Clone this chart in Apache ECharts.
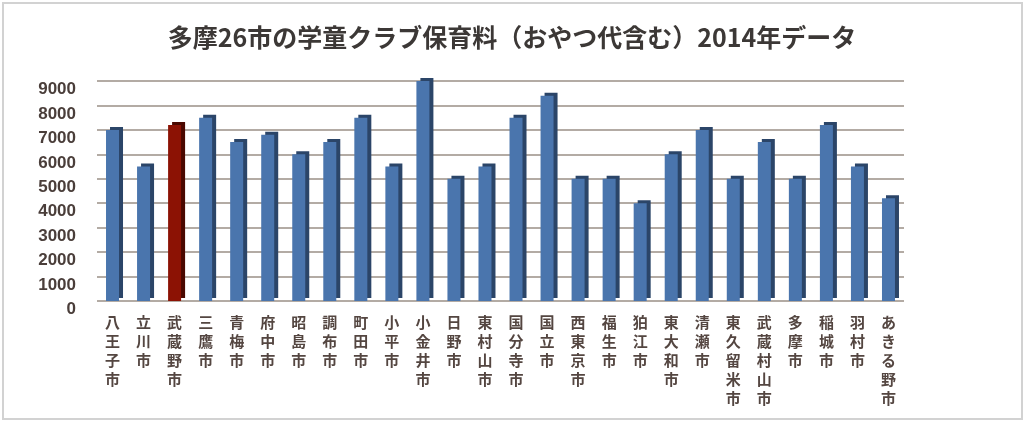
<!DOCTYPE html>
<html>
<head>
<meta charset="utf-8">
<script src="https://cdn.jsdelivr.net/npm/echarts@6/dist/echarts.min.js"></script>
<style>
  html, body { margin: 0; padding: 0; background: #fff; }
  #chart { width: 1024px; height: 421px; }
  #frame { position: absolute; left: 2px; top: 2px; width: 1017px; height: 414px;
           border: 2px solid #d2d2d2; pointer-events: none; }
</style>
</head>
<body>
<div id="chart"></div>
<div id="frame"></div>
<script>
const cities = ['八王子市', '立川市', '武蔵野市', '三鷹市', '青梅市', '府中市', '昭島市', '調布市',
    '町田市', '小平市', '小金井市', '日野市', '東村山市', '国分寺市', '国立市', '西東京市',
    '福生市', '狛江市', '東大和市', '清瀬市', '東久留米市', '武蔵村山市', '多摩市', '稲城市',
    '羽村市', 'あきる野市'];
const fees = [7000, 5500, 7200, 7500, 6500, 6800, 6000, 6500,
    7500, 5500, 9000, 5000, 5500, 7500, 8400, 5000,
    5000, 4000, 6000, 7000, 5000, 6500, 5000, 7200,
    5500, 4200];
const highlight = '武蔵野市';

const chart = echarts.init(document.getElementById('chart'));

chart.setOption({
    animation: false,
    title: {
        text: '多摩26市の学童クラブ保育料（おやつ代含む）2014年データ',
        left: 'center',
        top: 20,
        textStyle: {
            fontFamily: 'Noto Sans CJK JP',
            fontSize: 25,
            fontWeight: 'bold',
            color: '#3c3836'
        }
    },
    grid: { left: 97, right: 120, top: 81, bottom: 120 },
    xAxis: {
        type: 'category',
        data: cities,
        axisLine: { show: false },
        axisTick: { show: false },
        axisLabel: {
            interval: 0,
            margin: 12,
            fontFamily: 'Noto Sans CJK JP',
            fontSize: 15,
            fontWeight: 'bold',
            lineHeight: 19,
            color: '#544641',
            formatter: v => v.split('').join('\n')
        }
    },
    yAxis: {
        type: 'value',
        min: 0,
        max: 9000,
        interval: 1000,
        axisLine: { show: false },
        axisTick: { show: false },
        splitLine: { lineStyle: { color: '#b3aba4', width: 2 } },
        axisLabel: {
            margin: 21,
            verticalAlign: 'top',
            fontFamily: 'Liberation Sans',
            fontSize: 17,
            fontWeight: 'bold',
            color: '#4a3e3a',
            formatter: v => String(v)
        }
    },
    series: [{
        type: 'bar',
        barWidth: 13,
        data: fees.map((v, i) => ({
            value: v,
            itemStyle: cities[i] === highlight
                ? { color: '#8c1204', shadowColor: '#4a0800' }
                : {}
        })),
        itemStyle: {
            color: '#4a75ad',
            shadowColor: '#2b4568',
            shadowBlur: 0,
            shadowOffsetX: 4,
            shadowOffsetY: -3
        }
    }]
});
</script>
</body>
</html>
